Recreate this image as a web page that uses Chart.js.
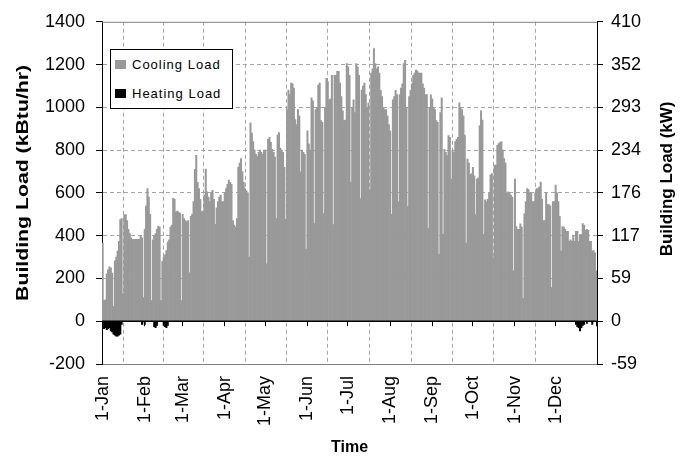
<!DOCTYPE html>
<html>
<head>
<meta charset="utf-8">
<script src="https://cdn.jsdelivr.net/npm/chart.js@4.4.1/dist/chart.umd.min.js"></script>
<style>
  html, body { margin: 0; padding: 0; background: #fff; }
  #wrap { position: relative; width: 686px; height: 460px; }
  #legend {
    position: absolute; left: 110px; top: 49px; width: 121px; height: 58px;
    border: 1px solid #000; background: #fff;
    font: 13px 'Liberation Sans', Arial, sans-serif; letter-spacing: 1px; color: #000;
  }
  .item { position: absolute; left: 4px; display: flex; align-items: center; height: 14px; }
  .sw { display: inline-block; width: 11px; height: 9px; margin-right: 6px; }
</style>
</head>
<body>
<div id="wrap">
  <canvas id="chart" width="686" height="460"></canvas>
  <div id="legend">
    <div class="item" style="top:7px"><span class="sw" style="background:#999"></span>Cooling Load</div>
    <div class="item" style="top:36px"><span class="sw" style="background:#000"></span>Heating Load</div>
  </div>
</div>
<script>
// Month tick labels and month lengths (non-leap year)
const monthLabels = ['1-Jan', '1-Feb', '1-Mar', '1-Apr', '1-May', '1-Jun', '1-Jul', '1-Aug', '1-Sep', '1-Oct', '1-Nov', '1-Dec'];
const monthDays = [31, 28, 31, 30, 31, 30, 31, 31, 30, 31, 30, 31];

// Daily peak cooling load, kBtu/hr
const coolJan = [365, 97, 100, 222, 240, 254, 250, 225, 70, 282, 300, 328, 374, 475, 480, 129, 499, 499, 470, 430, 410, 390, 383, 383, 383, 383, 383, 383, 400, 390, 111];
const coolFeb = [430, 540, 620, 580, 500, 97, 380, 400, 410, 430, 445, 440, 97, 280, 300, 310, 330, 370, 380, 440, 450, 575, 570, 510, 515, 510, 505, 97];
const coolMar = [500, 480, 470, 465, 470, 226, 490, 500, 560, 710, 776, 650, 620, 570, 513, 515, 590, 711, 605, 580, 560, 600, 612, 570, 453, 530, 560, 580, 590, 560, 560];
const coolApr = [600, 620, 640, 660, 650, 640, 470, 450, 440, 480, 720, 740, 760, 700, 650, 620, 610, 600, 300, 928, 880, 840, 800, 780, 770, 790, 800, 790, 780, 800];
const coolMay = [800, 268, 850, 860, 836, 804, 790, 767, 480, 870, 882, 810, 800, 790, 720, 476, 990, 1081, 1060, 1113, 1110, 1090, 943, 920, 990, 960, 698, 800, 790, 780, 337];
const coolJun = [890, 830, 800, 1044, 1030, 457, 990, 1000, 1104, 1113, 938, 930, 503, 1000, 1136, 1120, 1035, 1040, 1150, 452, 1150, 1150, 1168, 1168, 1113, 1050, 984, 938, 940, 1205];
const coolJul = [1190, 1150, 651, 1000, 1035, 975, 1205, 1190, 1150, 573, 1081, 1100, 1113, 1060, 1000, 1020, 614, 1160, 1180, 1275, 1205, 1180, 1190, 1160, 1080, 1050, 1000, 990, 990, 960, 920];
const coolAug = [890, 500, 1035, 1050, 1080, 1060, 560, 1060, 1090, 1110, 1205, 1220, 1000, 536, 1050, 1080, 1110, 1150, 1160, 1175, 1170, 1160, 1160, 1160, 1110, 1090, 1060, 1060, 434, 1000, 1058];
const coolSep = [1040, 1000, 990, 938, 930, 314, 975, 1044, 406, 804, 790, 776, 868, 860, 665, 800, 790, 840, 850, 860, 1021, 1000, 990, 960, 870, 365, 758, 740, 684, 690];
const coolOct = [720, 680, 499, 665, 670, 915, 984, 940, 406, 568, 560, 570, 600, 684, 690, 296, 730, 730, 822, 831, 835, 840, 800, 760, 740, 600, 605, 600, 590, 580, 236];
const coolNov = [665, 443, 430, 430, 455, 440, 106, 503, 560, 620, 615, 600, 600, 560, 560, 600, 620, 620, 628, 651, 570, 470, 470, 600, 545, 545, 540, 157, 560, 560];
const coolDec = [637, 600, 560, 490, 328, 443, 440, 430, 420, 420, 374, 380, 374, 400, 374, 420, 420, 374, 405, 405, 457, 450, 425, 430, 425, 374, 374, 328, 330, 320, 236];

// Daily peak heating load, kBtu/hr (negative); only Jan, Feb and Dec have any
const heatJan = [-20, -35, -30, -40, -35, -30, -45, -50, -60, -65, -70, -70, -65, -60, -15, null, null, null, null, null, null, null, null, null, null, null, null, null, null, -15, null];
const heatFeb = [-15, null, null, null, null, null, null, -25, -30, -20, null, null, null, null, -20, -25, -30, -20, null, null, null, null, null, null, null, null, null, null];
const heatDec = [null, null, null, null, null, null, null, null, null, null, null, null, null, null, null, null, null, -15, -25, -30, -45, -30, -20, -15, null, -10, null, null, null, -15, null];

// Left axis range (kBtu/hr); right axis shows the same in kW
const yMin = -200, yMax = 1400, yStep = 200;
const kwPerKbtu = 0.29307;

const cooling = [].concat(coolJan, coolFeb, coolMar, coolApr, coolMay, coolJun, coolJul, coolAug, coolSep, coolOct, coolNov, coolDec);
const heating = [].concat(heatJan, heatFeb, new Array(273).fill(null), heatDec);

// one category per day; remember which index starts each month
const labels = [];
const monthStartIdx = {};
let dayIdx = 0;
monthDays.forEach((n, m) => {
  monthStartIdx[dayIdx] = monthLabels[m];
  for (let d = 0; d < n; d++) labels.push(dayIdx + d);
  dayIdx += n;
});

const FONT = "'Liberation Sans', Arial, sans-serif";
const GRID = '#a6a6a6';

const decorations = {
  id: 'decorations',
  afterDatasetsDraw(chart) {
    const { ctx, chartArea: a, scales: { x, y } } = chart;
    const y0 = y.getPixelForValue(0);
    const half = (x.getPixelForValue(1) - x.getPixelForValue(0)) / 2;
    ctx.save();
    // top frame line
    ctx.strokeStyle = '#808080';
    ctx.lineWidth = 1;
    ctx.beginPath();
    ctx.moveTo(a.left, a.top + 0.5);
    ctx.lineTo(a.right, a.top + 0.5);
    ctx.stroke();
    // category axis crosses at zero
    ctx.strokeStyle = '#000';
    ctx.lineWidth = 1.5;
    ctx.beginPath();
    ctx.moveTo(a.left, y0);
    ctx.lineTo(a.right, y0);
    ctx.stroke();
    ctx.lineWidth = 1;
    Object.keys(monthStartIdx).forEach(i => {
      const px = Math.round(x.getPixelForValue(+i) - half) + 0.5;
      ctx.beginPath();
      ctx.moveTo(px, y0);
      ctx.lineTo(px, y0 + 5);
      ctx.stroke();
    });
    const px = Math.round(a.right) - 0.5;
    ctx.beginPath();
    ctx.moveTo(px, y0);
    ctx.lineTo(px, y0 + 5);
    ctx.stroke();
    // vertical axis titles, both read bottom to top
    ctx.fillStyle = '#000';
    ctx.font = 'bold 17px ' + FONT;
    ctx.textAlign = 'center';
    ctx.textBaseline = 'middle';
    const midY = (a.top + a.bottom) / 2;
    [[23, midY - 10, 1.25, 'Building Load (kBtu/hr)'], [667, midY - 14, 1, 'Building Load (kW)']].forEach(([tx, ty, stretch, txt]) => {
      ctx.save();
      ctx.translate(tx, ty);
      ctx.rotate(-Math.PI / 2);
      ctx.scale(stretch, 1);
      ctx.fillText(txt, 0, 0);
      ctx.restore();
    });
    ctx.restore();
  }
};

new Chart(document.getElementById('chart'), {
  type: 'bar',
  data: {
    labels,
    datasets: [
      { label: 'Cooling Load', data: cooling, backgroundColor: '#999999', borderWidth: 0 },
      { label: 'Heating Load', data: heating, backgroundColor: '#000000', borderWidth: 0 }
    ]
  },
  options: {
    responsive: false,
    animation: false,
    events: [],
    layout: { padding: { top: 18, left: 0, right: 0, bottom: 0 } },
    datasets: { bar: { barPercentage: 1, categoryPercentage: 1 } },
    plugins: { legend: { display: false }, tooltip: { enabled: false } },
    scales: {
      x: {
        stacked: true,
        grid: {
          offset: true,
          drawTicks: false,
          color: c => (c.tick && c.tick.value > 0 && monthStartIdx[c.tick.value] ? GRID : 'transparent'),
          lineWidth: 1
        },
        border: { color: '#808080', dash: [4, 3] },
        ticks: {
          autoSkip: false,
          minRotation: 90,
          maxRotation: 90,
          padding: 12,
          color: '#000',
          font: { family: FONT, size: 18 },
          callback: (v, i) => monthStartIdx[v] || null
        },
        title: { display: true, text: 'Time', color: '#000', font: { family: FONT, size: 16, weight: 'bold' }, padding: { top: 2, bottom: 3 } },
        afterFit: s => { s.height = 96; }
      },
      y: {
        stacked: true,
        min: yMin,
        max: yMax,
        grid: {
          color: c => (c.tick && [0, yMin, yMax].includes(c.tick.value) ? 'transparent' : GRID),
          tickColor: '#000',
          tickLength: 6,
          tickBorderDash: []
        },
        border: { color: '#000', dash: [4, 3] },
        ticks: { stepSize: yStep, padding: 11, color: '#000', font: { family: FONT, size: 18 }, callback: v => String(v) },
        afterFit: s => { s.width = 102; }
      },
      y2: {
        position: 'right',
        min: yMin,
        max: yMax,
        grid: { drawOnChartArea: false, tickColor: '#000', tickLength: 6 },
        border: { color: '#000' },
        ticks: {
          stepSize: yStep,
          padding: 8,
          color: '#000',
          font: { family: FONT, size: 18 },
          callback: v => String(Math.round(v * kwPerKbtu))
        },
        afterFit: s => { s.width = 89; }
      }
    }
  },
  plugins: [decorations]
});
</script>
</body>
</html>
